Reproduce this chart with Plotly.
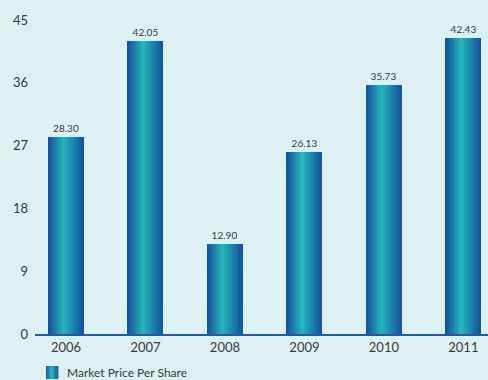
import plotly.graph_objects as go
import numpy as np

years = ["2006", "2007", "2008", "2009", "2010", "2011"]
price = [28.30, 42.05, 12.90, 26.13, 35.73, 42.43]
y_ticks = [0, 9, 18, 27, 36, 45]
series_name = "Market Price Per Share"

BG = "#ddf0f2"
TEXT = "#3a3a3a"
FONT = "Lato, 'Open Sans', sans-serif"

# horizontal gradient stops across a bar: dark blue edges, teal middle
stops = [(0.0, (20, 78, 158)), (0.45, (36, 184, 184)), (1.0, (18, 82, 160))]


def grad_color(t):
    for (t0, c0), (t1, c1) in zip(stops[:-1], stops[1:]):
        if t <= t1:
            f = (t - t0) / (t1 - t0)
            c = [round(a + (b - a) * f) for a, b in zip(c0, c1)]
            return "rgb(%d,%d,%d)" % tuple(c)
    return "rgb(%d,%d,%d)" % stops[-1][1]


BAR_W = 0.44
N = 28
step = BAR_W / N

fig = go.Figure()
for i in range(N):
    t = (i + 0.5) / N
    fig.add_trace(go.Bar(
        x=years, y=price,
        width=step * 1.35 if i < N - 1 else step,
        offset=-BAR_W / 2 + i * step,
        marker=dict(color=grad_color(t), line=dict(width=0)),
        showlegend=False, hoverinfo="skip",
    ))

# value labels above each bar
fig.add_trace(go.Bar(
    x=years, y=price, width=BAR_W,
    marker=dict(color="rgba(0,0,0,0)", line=dict(width=0)),
    texttemplate="%{y:.2f}", textposition="outside",
    textfont=dict(family=FONT, size=10, color=TEXT),
    cliponaxis=False, showlegend=False, name=series_name,
))

# legend swatch with the same gradient
sw_x0, sw_x1 = 46, 58
n_sw = 8
shapes = []
for i in range(n_sw):
    t = (i + 0.5) / n_sw
    xa = sw_x0 + (sw_x1 - sw_x0) * i / n_sw
    xb = sw_x0 + (sw_x1 - sw_x0) * (i + 1) / n_sw + 0.4
    shapes.append(dict(
        type="rect", xref="paper", yref="paper",
        x0=(xa - 35) / 453, x1=(xb - 35) / 453,
        y0=(334 - 366) / 314, y1=(334 - 379) / 314,
        fillcolor=grad_color(t), line=dict(width=0), layer="above",
    ))

fig.update_layout(
    width=488, height=380,
    margin=dict(l=35, r=0, t=20, b=46),
    paper_bgcolor=BG, plot_bgcolor=BG,
    barmode="overlay", bargap=0,
    showlegend=False,
    font=dict(family=FONT, color=TEXT),
    xaxis=dict(
        type="category", range=[-0.39, 5.31],
        showgrid=False, zeroline=False, ticks="",
        showline=True, linecolor="#1d5aaa", linewidth=2,
        tickfont=dict(size=13, color=TEXT, family=FONT),
        fixedrange=True,
    ),
    yaxis=dict(
        range=[0, 45], tickvals=y_ticks,
        showgrid=False, zeroline=False, showline=False, ticks="",
        tickfont=dict(size=13, color=TEXT, family=FONT),
        ticklabelstandoff=6,
    ),
    shapes=shapes,
    annotations=[dict(
        text=series_name, xref="paper", yref="paper",
        x=(65 - 35) / 453, y=(334 - 372) / 314,
        xanchor="left", yanchor="middle", showarrow=False,
        font=dict(family=FONT, size=12, color=TEXT),
    )],
)

fig.write_html("out.html")
